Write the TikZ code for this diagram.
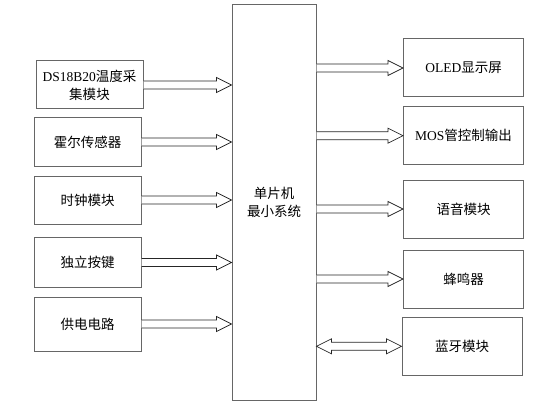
\documentclass[tikz,border=0pt]{standalone}
\usepackage{fontspec}
\setmainfont{Liberation Serif}
\newfontfamily\cjk{Noto Sans CJK SC}
\newfontfamily\latfont{Liberation Serif}
\usetikzlibrary{calc}
\usetikzlibrary{positioning}

% hollow block arrow from #1 to #2 (same height)
\newcommand{\fatarrow}[2]{%
  \draw[arrowline] let \p1=(#1), \p2=(#2) in
    (\x1,\y1+4pt) -- (\x2-15pt,\y1+4pt) -- (\x2-15pt,\y1+7.5pt) -- (\x2,\y1)
    -- (\x2-15pt,\y1-7.5pt) -- (\x2-15pt,\y1-4pt) -- (\x1,\y1-4pt);}
% hollow block arrow with two heads
\newcommand{\fatdoublearrow}[2]{%
  \draw[arrowline] let \p1=(#1), \p2=(#2) in
    (\x1,\y1) -- (\x1+15pt,\y1+7.5pt) -- (\x1+15pt,\y1+4pt) -- (\x2-15pt,\y1+4pt)
    -- (\x2-15pt,\y1+7.5pt) -- (\x2,\y1) -- (\x2-15pt,\y1-7.5pt) -- (\x2-15pt,\y1-4pt)
    -- (\x1+15pt,\y1-4pt) -- (\x1+15pt,\y1-7.5pt) -- cycle;}

\begin{document}
\begin{tikzpicture}[x=1pt,y=-1pt]
            \tikzset{block/.style={draw=black!60, line width=1pt, align=center,
                font=\fontsize{13.5}{18}\selectfont\cjk, inner sep=2pt}}
            \tikzset{inbox/.style={block, minimum width=107pt, minimum height=48pt}}
            \tikzset{outbox/.style={block, minimum width=120pt, minimum height=58pt}}
            \tikzset{arrowline/.style={draw=black!85, line width=0.7pt, fill=white}}
            \useasboundingbox (0,0) rectangle (559,409);
            % MCU in the middle
            \node[block, minimum width=84pt, minimum height=395pt] (mcu) at (274,202.5)
                {单片机\\最小系统};
            % inputs
            \node[inbox] (temp) at (89.5,85) {{\latfont DS18B20}温度采\\集模块};
            \node[inbox] (hall) at (87.5,142) {霍尔传感器};
            \node[inbox] (clock) at (87.5,200) {时钟模块};
            \node[inbox, minimum height=50pt] (keys) at (87.5,262.5) {独立按键};
            \node[inbox, minimum height=54pt] (power) at (87.5,324) {供电电路};
            % outputs
            \node[outbox] (oled) at (463.5,68) {{\latfont OLED}显示屏};
            \node[outbox] (mos) at (463.5,135.7) {{\latfont MOS}管控制输出};
            \node[outbox] (voice) at (463.5,209) {语音模块};
            \node[outbox] (buzzer) at (463.5,279) {蜂鸣器};
            \node[outbox] (bt) at (462,346.3) {蓝牙模块};
            % connections
            \fatarrow{temp.east}{mcu.west |- temp.east}
            \fatarrow{hall.east}{mcu.west |- hall.east}
            \fatarrow{clock.east}{mcu.west |- clock.east}
            \fatarrow{keys.east}{mcu.west |- keys.east}
            \fatarrow{power.east}{mcu.west |- power.east}
            \fatarrow{mcu.east |- oled.west}{oled.west}
            \fatarrow{mcu.east |- mos.west}{mos.west}
            \fatarrow{mcu.east |- voice.west}{voice.west}
            \fatarrow{mcu.east |- buzzer.west}{buzzer.west}
            \fatdoublearrow{mcu.east |- bt.west}{bt.west}
        \end{tikzpicture}
\end{document}
